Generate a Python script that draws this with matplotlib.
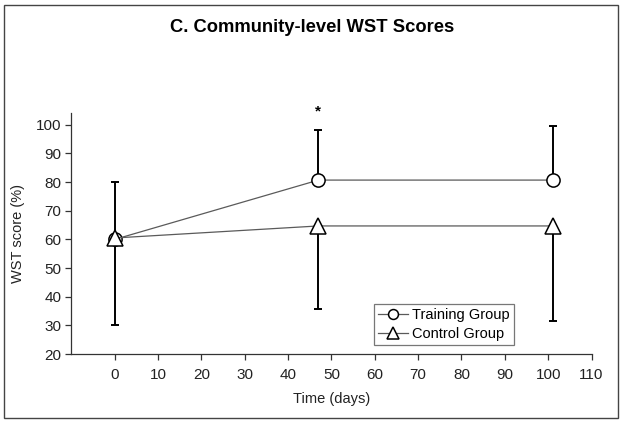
import matplotlib
matplotlib.use("Agg")
import matplotlib.pyplot as plt
from matplotlib.patches import Rectangle

plt.rcParams['font.family'] = ['Liberation Sans', 'DejaVu Sans']

days = [0, 47, 101]
training = [60.0, 80.7, 80.7]
training_upper = [80.2, 98.3, 99.7]
control = [60.5, 64.7, 64.7]
control_lower = [30.1, 35.7, 31.6]
x_ticks = [0, 10, 20, 30, 40, 50, 60, 70, 80, 90, 100, 110]
y_ticks = [20, 30, 40, 50, 60, 70, 80, 90, 100]

fig = plt.figure(figsize=(6.24, 4.22), dpi=100)
fig.patches.append(Rectangle((4/624, 4/422), 614/624, 413/422, transform=fig.transFigure,
                             fill=False, edgecolor='#444444', linewidth=1.0))
ax = fig.add_axes([0.1143, 0.161, 0.948 - 0.1143, 0.7315 - 0.161])

t_err = [[0]*3, [u - v for u, v in zip(training_upper, training)]]
c_err = [[v - l for v, l in zip(control, control_lower)], [0]*3]

ax.errorbar(days, training, yerr=t_err, fmt='none', ecolor='black', elinewidth=1.4,
            capsize=3, capthick=1.4, zorder=2)
ax.errorbar(days, control, yerr=c_err, fmt='none', ecolor='black', elinewidth=1.4,
            capsize=3, capthick=1.4, zorder=2)
ax.plot(days, training, color='#5a5a5a', linewidth=0.9, marker='o', markersize=9.5,
        markerfacecolor='white', markeredgecolor='black', markeredgewidth=1.1,
        label='Training Group', zorder=3)
ax.plot(days, control, color='#5a5a5a', linewidth=0.9, marker='^', markersize=11,
        markerfacecolor='white', markeredgecolor='black', markeredgewidth=1.1,
        label='Control Group', zorder=3)

ax.text(days[1], 104.6, '*', ha='center', va='center', fontsize=11, fontweight='bold',
        clip_on=False)

ax.set_xlim(-10, 110)
ax.set_ylim(20, 104)
ax.set_xticks(x_ticks)
ax.set_yticks(y_ticks)
for s in ['top', 'right']:
    ax.spines[s].set_visible(False)
for s in ['left', 'bottom']:
    ax.spines[s].set_color('#333333')
    ax.spines[s].set_linewidth(0.9)
ax.tick_params(axis='both', direction='out', length=4, width=0.9, colors='#333333',
               labelsize=11, labelcolor='#222222')
ax.tick_params(axis='x', pad=6)
ax.tick_params(axis='y', pad=3)
ax.set_xlabel('Time (days)', fontsize=10.5, color='#222222', labelpad=7)
ax.set_ylabel('WST score (%)', fontsize=10.5, color='#222222', labelpad=8)

leg = ax.legend(loc='lower left', bbox_to_anchor=(0.582, 0.037), fontsize=10.5,
                fancybox=False, edgecolor='#777777', framealpha=1, handlelength=2.0,
                markerscale=0.75, borderpad=0.3, labelspacing=0.3, handletextpad=0.3,
                borderaxespad=0)
leg.get_frame().set_linewidth(0.9)

fig.text(0.5, 1 - 27/422, 'C. Community-level WST Scores', ha='center', va='center',
         fontsize=13.2, fontweight='bold')

fig.savefig('out.png', dpi=100)
